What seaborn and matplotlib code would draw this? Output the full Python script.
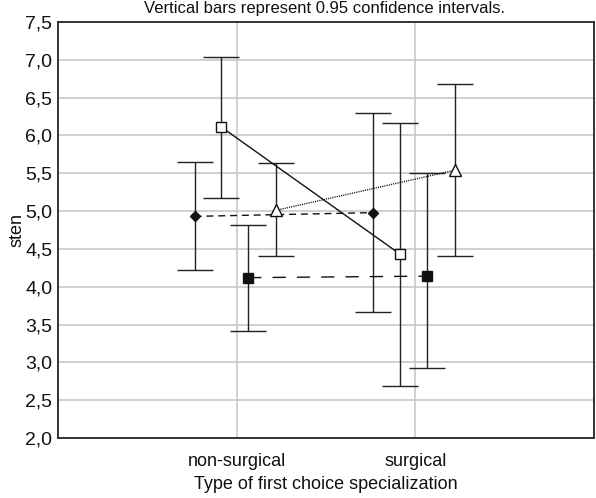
import matplotlib

matplotlib.use("Agg")
import matplotlib.pyplot as plt
import pandas as pd
import seaborn as sns

# data
categories = ["non-surgical", "surgical"]
series_names = ["diamond", "open_square", "filled_square", "triangle"]
means = {
    "diamond": [4.93, 4.98],
    "open_square": [6.11, 4.43],
    "filled_square": [4.12, 4.14],
    "triangle": [5.01, 5.54],
}
ci_upper = {
    "diamond": [5.65, 6.30],
    "open_square": [7.04, 6.17],
    "filled_square": [4.82, 5.50],
    "triangle": [5.64, 6.68],
}
ci_lower = {
    "diamond": [4.22, 3.66],
    "open_square": [5.17, 2.69],
    "filled_square": [3.42, 2.92],
    "triangle": [4.40, 4.41],
}
y_ticks = [2.0, 2.5, 3.0, 3.5, 4.0, 4.5, 5.0, 5.5, 6.0, 6.5, 7.0, 7.5]

offsets = {"diamond": -0.235, "open_square": -0.085, "filled_square": 0.065, "triangle": 0.22}
styles = {
    "diamond": dict(marker="D", mfc="#111111", ms=5.5, dashes=(5, 3.5)),
    "open_square": dict(marker="s", mfc="white", ms=7, dashes=None),
    "filled_square": dict(marker="s", mfc="#111111", ms=7.5, dashes=(9.5, 8)),
    "triangle": dict(marker="^", mfc="white", ms=9, dashes=(0.8, 0.8)),
}

sns.set_theme(style="white")
plt.rcParams["font.family"] = ["Liberation Sans", "DejaVu Sans"]

fig = plt.figure(figsize=(5.96, 4.98), dpi=100)
ax = fig.add_axes([58 / 596, 1 - 438 / 498, 536 / 596, 416 / 498])

rows = []
for name in series_names:
    for i, cat in enumerate(categories):
        rows.append({"series": name, "x": i + offsets[name], "mean": means[name][i],
                     "lo": ci_lower[name][i], "hi": ci_upper[name][i]})
df = pd.DataFrame(rows)

# confidence interval bars
for name in series_names:
    sub = df[df["series"] == name]
    ax.errorbar(sub["x"], sub["mean"],
                yerr=[sub["mean"] - sub["lo"], sub["hi"] - sub["mean"]],
                fmt="none", ecolor="#222222", elinewidth=1.0, capsize=13, capthick=1.0, zorder=2)

# means joined across categories
for name in series_names:
    sub = df[df["series"] == name]
    st = styles[name]
    sns.lineplot(data=sub, x="x", y="mean", ax=ax, color="#111111", lw=1.0,
                 marker=st["marker"], markersize=st["ms"], markerfacecolor=st["mfc"],
                 markeredgecolor="#111111", markeredgewidth=1.0, zorder=3,
                 estimator=None, sort=False)
    if st["dashes"] is not None:
        ax.lines[-1].set_dashes(st["dashes"])

ax.set_xlim(-1, 2)
ax.set_ylim(2.0, 7.5)
ax.set_xticks(range(len(categories)))
ax.set_xticklabels(categories)
ax.set_yticks(y_ticks)
ax.set_yticklabels([f"{v:.1f}".replace(".", ",") for v in y_ticks])
ax.grid(True, color="#c8c8c8", lw=1.2)
ax.set_axisbelow(True)
for sp in ax.spines.values():
    sp.set_color("#333333")
    sp.set_linewidth(1.4)
ax.tick_params(axis="x", length=0, labelsize=13, colors="#111111", pad=11)
ax.tick_params(axis="y", length=0, labelsize=14, colors="#111111", pad=4)
ax.set_xlabel("Type of first choice specialization", fontsize=13, color="#111111", labelpad=4)
ax.set_ylabel("sten", fontsize=13, color="#111111", labelpad=0)
fig.text(325 / 596, 1 - 1 / 498, "Vertical bars represent 0.95 confidence intervals.",
         ha="center", va="top", fontsize=12, color="#111111")

fig.savefig("out.png", dpi=100)
